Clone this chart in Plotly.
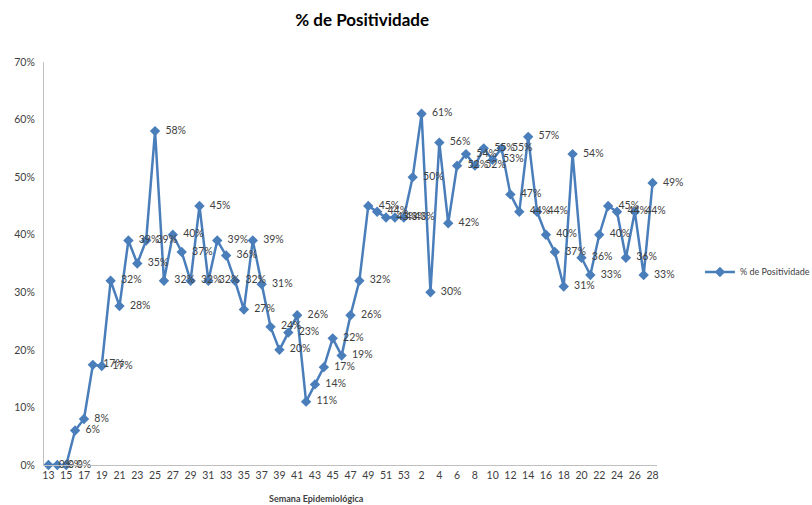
import plotly.graph_objects as go

# Semana epidemiológica (2020: 13-53, 2021: 1-28)
weeks_2020 = list(range(13, 54))
weeks_2021 = list(range(1, 29))
week_labels = [str(w) for w in weeks_2020 + weeks_2021]

positividade_2020 = [0, 0, 0, 6, 8, 17.4, 17.2, 32, 27.6, 39, 35, 39, 58, 32, 40, 37,
                     32, 45, 32, 39, 36.4, 32, 27, 39, 31.4, 24, 20, 23, 26, 11, 14, 17,
                     22, 19, 26, 32, 45, 44, 43, 43, 43]
positividade_2021 = [50, 61, 30, 56, 42, 52, 54, 52, 55, 53, 55, 47, 44, 57, 44, 40,
                     37, 31, 54, 36, 33, 40, 45, 44, 36, 44, 33, 49]
values = positividade_2020 + positividade_2021

series_name = "% de Positividade"
title_text = "% de Positividade"
x_title = "Semana Epidemiológica"

x_idx = list(range(len(values)))
tickvals = x_idx[::2]
ticktext = week_labels[::2]
texts = [f"{v:.0f}%" for v in values]

color = "#4A7EBB"
fig = go.Figure()
fig.add_trace(go.Scatter(
    x=x_idx, y=values, name=series_name, mode="lines+markers",
    line=dict(color=color, width=2.5),
    marker=dict(symbol="diamond", size=8, color=color),
    cliponaxis=False,
))
# data labels (transparent larger marker gives the label offset)
fig.add_trace(go.Scatter(
    x=x_idx, y=values, mode="markers+text", showlegend=False, hoverinfo="skip",
    marker=dict(size=15, color="rgba(0,0,0,0)"),
    text=texts, textposition="middle right",
    textfont=dict(family="Lato, Open Sans, sans-serif", size=10.5, color="#404040"),
    cliponaxis=False,
))

fig.update_layout(
    width=812, height=505,
    margin=dict(l=44, r=155, t=62, b=40, autoexpand=False),
    paper_bgcolor="white", plot_bgcolor="white",
    font=dict(family="Lato, Open Sans, sans-serif", color="#404040"),
    title=dict(text=f"<b>{title_text}</b>", xref="container", x=0.446, xanchor="center",
               yref="container", y=0.96, yanchor="middle",
               font=dict(size=17, color="#000000", family="Lato, sans-serif")),
    showlegend=True,
    legend=dict(xref="container", x=0.862, y=0.479, xanchor="left", yanchor="middle",
                font=dict(size=9, color="#404040"), bgcolor="rgba(0,0,0,0)",
                itemwidth=30),
    xaxis=dict(range=[-0.5, len(values) - 0.5], tickvals=tickvals, ticktext=ticktext,
               showgrid=False, zeroline=False, showline=True, linecolor="#BFBFBF",
               linewidth=1, ticks="", automargin=False,
               tickfont=dict(size=10.5, color="#404040")),
    yaxis=dict(range=[0, 70], dtick=10, ticksuffix="%", showgrid=False, zeroline=False,
               showline=True, linecolor="#BFBFBF", linewidth=1, ticks="",
               automargin=False, ticklabelstandoff=6,
               tickfont=dict(size=10.5, color="#404040")),
    annotations=[dict(text=f"<b>{x_title}</b>", xref="paper", yref="paper",
                      x=0.444, y=-0.082, xanchor="center", yanchor="middle",
                      showarrow=False, font=dict(size=9, color="#404040"))],
)

fig.write_html("out.html", config={"displayModeBar": False},
               post_script="document.body.style.margin='0';")
